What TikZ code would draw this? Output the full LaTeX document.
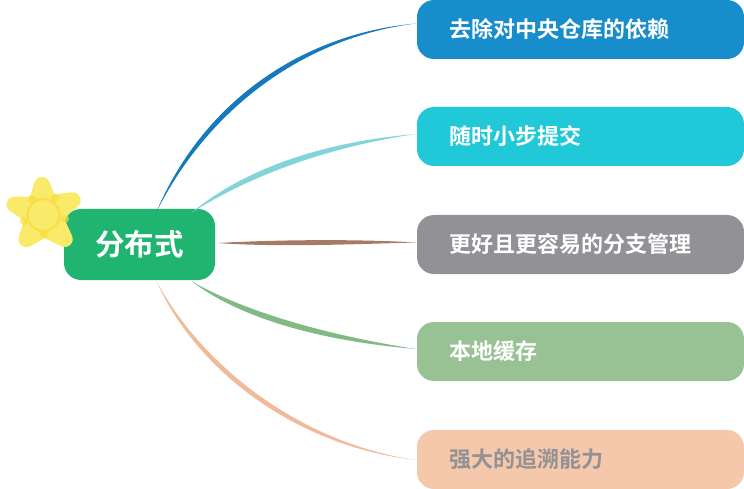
\documentclass[tikz,border=0pt]{standalone}
\usepackage{fontspec}
\setmainfont{Noto Sans CJK SC}[BoldFont={Noto Sans CJK SC Bold}]
\usetikzlibrary{positioning,calc}
\definecolor{hubgreen}{HTML}{1FB571}
\definecolor{boxblue}{HTML}{178DCB}
\definecolor{boxcyan}{HTML}{21C9D8}
\definecolor{boxgrey}{HTML}{929296}
\definecolor{boxsage}{HTML}{98C194}
\definecolor{boxpeach}{HTML}{F5C7AB}
\definecolor{lineblue}{HTML}{1479BD}
\definecolor{linecyan}{HTML}{82D3DA}
\definecolor{linebrown}{HTML}{A57B66}
\definecolor{linegreen}{HTML}{83B985}
\definecolor{linepeach}{HTML}{F1BB9B}
\definecolor{staryellow}{HTML}{F9EA69}
\definecolor{starring}{HTML}{F9DC3F}
\tikzset{
  topic/.style={rounded corners=17pt,minimum width=327pt,minimum height=59pt,
    text width=263pt,inner sep=0pt,align=left,text=white,font=\bfseries\fontsize{22}{24}\selectfont},
  hubnode/.style={fill=hubgreen,rounded corners=17pt,minimum width=151pt,minimum height=71pt,
    inner sep=0pt,text=white,font=\bfseries\fontsize{29.5}{32}\selectfont},
  starblob/.style={fill=starring,opacity=.7},
}
% tapered stroke: {colour}{from}{to}{control 1}{control 2}{offset of the controls}
\newcommand{\brush}[6]{%
  \fill [#1] (#2) .. controls ($(#4)+1.25*(#6)$) and ($(#5)+0.75*(#6)$) .. (#3)
     .. controls ($(#5)-0.75*(#6)$) and ($(#4)-1.25*(#6)$) .. (#2);}
\begin{document}
\begin{tikzpicture}[x=1pt,y=-1pt]
\useasboundingbox (0,0) rectangle (744,489);
\node [hubnode] (hub) at (139.5,244.5) {分布式};
\node [topic,fill=boxblue] (depot) at (580.5,29.5) {去除对中央仓库的依赖};
\node [topic,fill=boxcyan] (steps) at (580.5,136.5) {随时小步提交};
\node [topic,fill=boxgrey] (branch) at (580.5,244.5) {更好且更容易的分支管理};
\node [topic,fill=boxsage] (cache) at (580.5,351.5) {本地缓存};
\node [topic,fill=boxpeach,text=boxgrey] (trace) at (580.5,459.5) {强大的追溯能力};
% connectors
\brush{lineblue}{$(hub.north)+(16.5,4)$}{$(depot.west)+(-1,-6)$}{204,108}{300,36}{2.2,2.4}
\brush{linecyan}{$(hub.north)+(52,4)$}{$(steps.west)+(-1,-2.5)$}{250,170}{330,144}{1.6,3.4}
\brush{linebrown}{$(hub.east)+(2,-1.5)$}{$(branch.west)+(-1,-2)$}{280,243.5}{360,241.5}{0,3.2}
\brush{linegreen}{$(hub.south)+(52,1)$}{$(cache.west)+(-1,-2.5)$}{250,320}{340,340}{-1.6,3.4}
\brush{linepeach}{$(hub.south)+(17,1)$}{$(trace.west)+(-1,0.5)$}{200,370}{300,445}{-2.2,2.2}
% star
\filldraw [staryellow,line width=16pt,line join=round] (42,185) -- (49,203) -- (72.7,200.3) -- (54,215.5) -- (64.7,239) -- (44.5,229) -- (26.4,239.3) -- (33.5,217) -- (14.6,204.5) -- (36,205) -- cycle;
\draw [starring,line width=2.4pt,opacity=.75] (43.5,215) circle (16);
\fill [starblob] (32,199) circle (4);
\fill [starblob] (55,198) circle (4);
\fill [starblob] (65,219) circle (4);
\fill [starblob] (44,234) circle (4);
\fill [starblob] (24,221) circle (4);
\end{tikzpicture}
\end{document}
